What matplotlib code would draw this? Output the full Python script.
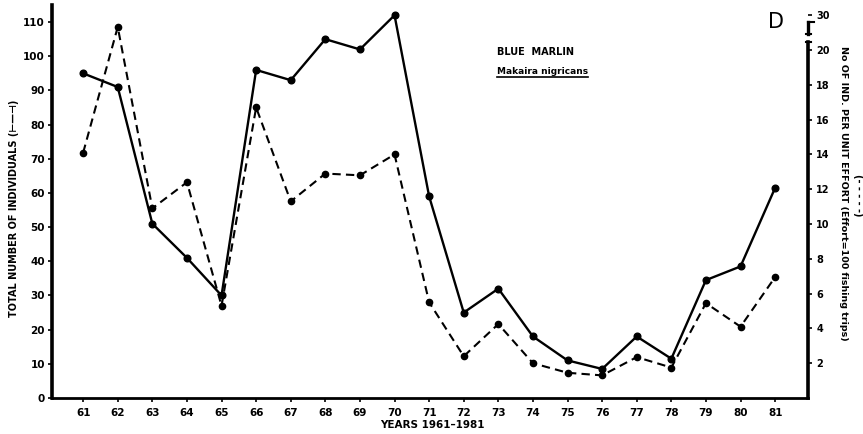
import numpy as np
import matplotlib
matplotlib.use("Agg")
import matplotlib.pyplot as plt

# ---------------- data ----------------
years = list(range(61, 82))
year_labels = [str(y) for y in years]
total_individuals = [95, 91, 51, 41, 30, 96, 93, 105, 102, 112, 59,
                     25, 32, 18, 11, 8.5, 18, 11.5, 34.5, 38.5, 61.5]
per_unit_effort = [14.1, 26.6, 10.9, 12.4, 5.3, 16.7, 11.3, 12.9, 12.8, 14.0, 5.5,
                   2.4, 4.25, 2.0, 1.45, 1.3, 2.35, 1.75, 5.45, 4.1, 6.95]
left_ticks = list(range(0, 111, 10))
right_ticks = [2, 4, 6, 8, 10, 12, 14, 16, 18, 20, 30]

# ---------------- layout ----------------
W, H = 863, 434
fig = plt.figure(figsize=(W / 100, H / 100), dpi=100)
x0, x1, yb, yt = 52, 808, 398, 5
ax = fig.add_axes([x0 / W, (H - yb) / H, (x1 - x0) / W, (yb - yt) / H])

def px(x, y):
    return x / W, 1 - y / H

# left axis: total individuals (solid)
ax.plot(years, total_individuals, color="black", lw=1.7, marker="o", ms=4.8,
        solid_joinstyle="round", zorder=3)
ax.set_xlim(60.1, 81.95)
ax.set_ylim(0, 115)
ax.set_xticks(years)
ax.set_xticklabels(year_labels, fontsize=7.5, fontweight="bold")
ax.set_yticks(left_ticks)
ax.set_yticklabels([str(t) for t in left_ticks], fontsize=7.5, fontweight="bold")
ax.tick_params(axis="both", direction="out", length=3, width=1.2, pad=2)
ax.tick_params(axis="x", pad=4)
for s in ("top", "right"):
    ax.spines[s].set_visible(False)
ax.spines["left"].set_linewidth(2.6)
ax.spines["bottom"].set_linewidth(2.0)

# right axis: per unit effort (dashed) with a broken scale above 20
K = 0.201
def fwd(v):
    v = np.asarray(v, dtype=float)
    return np.where(v <= 20, v, 20 + (v - 20) * K)
def inv(u):
    u = np.asarray(u, dtype=float)
    return np.where(u <= 20, u, 20 + (u - 20) / K)

ax2 = ax.twinx()
ax2.set_yscale("function", functions=(fwd, inv))
ax2.set_ylim(0, float(inv(22.59)))
ax2.plot(years, per_unit_effort, color="black", lw=1.5, ls=(0, (4, 2.5)),
         marker="o", ms=4.5, zorder=3)
ax2.set_yticks(right_ticks)
ax2.set_yticklabels([str(t) for t in right_ticks], fontsize=7, fontweight="bold")
ax2.tick_params(axis="y", direction="out", length=3, width=1.2, pad=3)
for s in ("top", "left", "bottom"):
    ax2.spines[s].set_visible(False)
ax2.spines["right"].set_linewidth(2.6)
ax2.spines["right"].set_bounds(0, float(inv(20.46)))

# axis break marks
yt2 = ax2.get_yaxis_transform()
ax2.plot([1, 1], [float(inv(20.95)), float(inv(21.62))], transform=yt2,
         color="black", lw=2.4, clip_on=False)
ax2.plot([0.997, 1.004], [float(inv(20.46))] * 2, transform=yt2,
         color="black", lw=1.5, clip_on=False)
ax2.plot([0.997, 1.004], [float(inv(20.95))] * 2, transform=yt2,
         color="black", lw=1.5, clip_on=False)
ax2.plot([1, 1.008], [float(inv(21.62))] * 2, transform=yt2,
         color="black", lw=1.5, clip_on=False)

# ---------------- texts ----------------
fig.text(*px(14, 208), "TOTAL NUMBER OF INDIVIDUALS (\u22a2\u2014\u22a3)",
         rotation=90, ha="center", va="center", fontsize=7, fontweight="bold")
fig.text(*px(843, 193), "No OF IND. PER UNIT EFFORT (Effort=100 fishing trips)",
         rotation=270, ha="center", va="center", fontsize=6.8, fontweight="bold")
fig.text(*px(858, 195), "(- - - - -)", rotation=270, ha="center", va="center",
         fontsize=7, fontweight="bold")
fig.text(*px(432, 425), "YEARS 1961\u20131981", ha="center", va="center",
         fontsize=7.5, fontweight="bold")
fig.text(*px(497, 52), "BLUE  MARLIN", ha="left", va="center",
         fontsize=7, fontweight="bold")
t_sp = fig.text(*px(497, 71), "Makaira nigricans", ha="left", va="center",
                fontsize=6.5, fontweight="bold")
fig.text(*px(776, 22), "D", ha="center", va="center", fontsize=15)

# underline the species name
fig.canvas.draw()
bb = t_sp.get_window_extent(fig.canvas.get_renderer())
fig.add_artist(plt.Line2D([bb.x0 / W, bb.x1 / W], [(bb.y0 - 1) / H] * 2,
                          color="black", lw=1.2, transform=fig.transFigure))

fig.savefig("out.png", dpi=100)
